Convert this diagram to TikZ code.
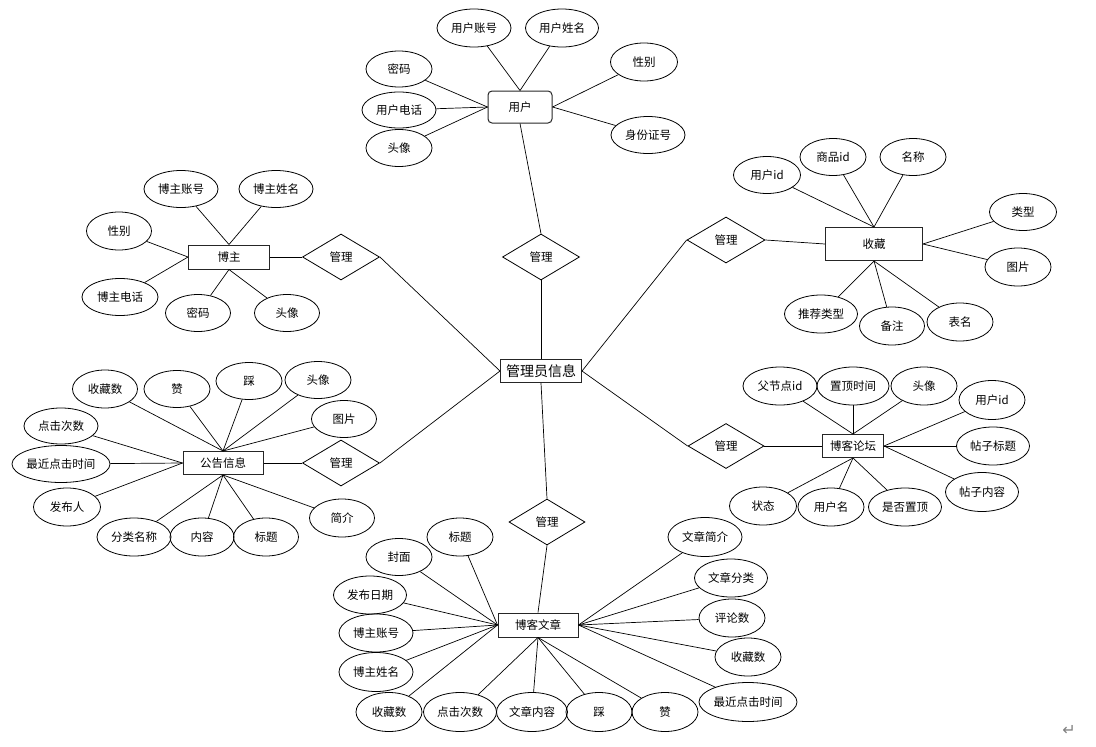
\documentclass[tikz,border=0pt]{standalone}
\usepackage{fontspec}
\setmainfont{Noto Sans CJK SC}
\newfontfamily\symfont{DejaVu Sans}
\usetikzlibrary{shapes.geometric}
\begin{document}
\begin{tikzpicture}[x=1pt,y=-1pt,
  every node/.style={font=\fontsize{11.5}{13}\selectfont, inner sep=0pt},
  attr/.style={ellipse, draw, line width=0.8pt, minimum width=66pt, minimum height=38pt},
  ent/.style={rectangle, draw=black!85, line width=1pt, minimum width=80pt, minimum height=24pt},
  rel/.style={diamond, draw, line width=0.8pt, minimum width=77pt, minimum height=46pt},
  conn/.style={line width=0.7pt}]
\useasboundingbox (0,0) rectangle (1096,747);

% ---------- central entity ----------
\node[ent, minimum width=81pt, minimum height=23pt, font=\fontsize{14}{16}\selectfont] (admin) at (541,371) {管理员信息};

% ---------- user ----------
\node[ent, rounded corners=4pt, minimum width=64pt, minimum height=32pt] (user) at (520,107) {用户};
\node[attr, minimum width=74pt] (ua1) at (474,28) {用户账号};
\node[attr, minimum width=73pt] (ua2) at (562,28) {用户姓名};
\node[attr, minimum width=67pt] (ua3) at (644,62) {性别};
\node[attr, minimum width=74pt, minimum height=37pt] (ua4) at (648,135) {身份证号};
\node[attr, minimum height=36pt] (ua5) at (399,69) {密码};
\node[attr, minimum width=74pt, minimum height=36pt] (ua6) at (399,110) {用户电话};
\node[attr, minimum height=37pt] (ua7) at (399,148) {头像};
\node[rel] (rel1) at (541,257) {管理};
\foreach \a in {ua1,ua2} \draw[conn] (\a) -- (user.north);
\foreach \a in {ua3,ua4} \draw[conn] (\a) -- (user.east);
\foreach \a in {ua5,ua6,ua7} \draw[conn] (\a) -- (user.west);
\draw[conn] (user.south) -- (rel1.north);
\draw[conn] (rel1.south) -- (admin.north);

% ---------- blogger ----------
\node[ent, minimum width=81pt] (bz) at (229,257) {博主};
\node[attr, minimum width=74pt, minimum height=37pt] (ba1) at (181,189) {博主账号};
\node[attr, minimum width=74pt, minimum height=37pt] (ba2) at (276,189) {博主姓名};
\node[attr, minimum width=65pt] (ba3) at (119,231) {性别};
\node[attr, minimum width=76pt, minimum height=37pt] (ba4) at (120,297) {博主电话};
\node[attr, minimum width=65pt, minimum height=37pt] (ba5) at (198,313) {密码};
\node[attr, minimum width=65pt, minimum height=37pt] (ba6) at (287,313) {头像};
\node[rel] (rel2) at (341,257) {管理};
\foreach \a in {ba1,ba2} \draw[conn] (\a) -- (bz.north);
\foreach \a in {ba3,ba4} \draw[conn] (\a) -- (bz.west);
\foreach \a in {ba5,ba6} \draw[conn] (\a) -- (bz.south);
\draw[conn] (bz.east) -- (rel2.west);
\draw[conn] (rel2.east) -- (admin.west);

% ---------- collection ----------
\node[ent, minimum width=97pt, minimum height=33pt] (sc) at (874,244) {收藏};
\node[attr, minimum width=67pt, minimum height=37pt] (ca1) at (767,175) {用户id};
\node[attr, minimum height=37pt] (ca2) at (833,157) {商品id};
\node[attr, minimum height=37pt] (ca3) at (913,157) {名称};
\node[attr, minimum width=67pt, minimum height=37pt] (ca4) at (1023,212) {类型};
\node[attr] (ca5) at (1018,267) {图片};
\node[attr, minimum width=73pt] (ca6) at (821,314) {推荐类型};
\node[attr, minimum width=65pt] (ca7) at (892,326) {备注};
\node[attr] (ca8) at (960,322) {表名};
\node[rel, minimum width=78pt] (rel3) at (726,240) {管理};
\foreach \a in {ca1,ca2,ca3} \draw[conn] (\a) -- (sc.north);
\foreach \a in {ca4,ca5} \draw[conn] (\a) -- (sc.east);
\foreach \a in {ca6,ca7,ca8} \draw[conn] (\a) -- (sc.south);
\draw[conn] (rel3.east) -- (sc.west);
\draw[conn] (rel3.west) -- (admin.east);

% ---------- notice ----------
\node[ent, minimum height=23pt] (gg) at (223,463) {公告信息};
\node[attr, minimum width=65pt] (na1) at (105,389) {收藏数};
\node[attr, minimum height=37pt] (na2) at (177,389) {赞};
\node[attr, minimum height=37pt] (na3) at (249,381) {踩};
\node[attr, minimum height=37pt] (na4) at (318,380) {头像};
\node[attr, minimum width=65pt, minimum height=37pt] (na5) at (344,419) {图片};
\node[attr, minimum width=74pt, minimum height=36pt] (na6) at (61,426) {点击次数};
\node[attr, minimum width=98pt, minimum height=37pt] (na7) at (61,464) {最近点击时间};
\node[attr, minimum width=67pt] (na8) at (67,507) {发布人};
\node[attr, minimum width=74pt] (na9) at (134,537) {分类名称};
\node[attr, minimum width=64pt] (na10) at (202,537) {内容};
\node[attr, minimum width=65pt] (na11) at (266,537) {标题};
\node[attr, minimum width=65pt] (na12) at (342,518) {简介};
\node[rel] (rel4) at (341,463) {管理};
\foreach \a in {na1,na2,na3,na4,na5} \draw[conn] (\a) -- (gg.north);
\foreach \a in {na6,na7,na8} \draw[conn] (\a) -- (gg.west);
\foreach \a in {na9,na10,na11,na12} \draw[conn] (\a) -- (gg.south);
\draw[conn] (gg.east) -- (rel4.west);
\draw[conn] (rel4.east) -- (admin.west);

% ---------- forum ----------
\node[ent, minimum width=61pt, minimum height=23pt] (lt) at (853,446) {博客论坛};
\node[attr, minimum width=74pt] (fa1) at (780,386) {父节点id};
\node[attr, minimum width=72pt] (fa2) at (853,386) {置顶时间};
\node[attr] (fa3) at (924,386) {头像};
\node[attr, minimum height=39pt] (fa4) at (992,400) {用户id};
\node[attr, minimum width=73pt] (fa5) at (993,446) {帖子标题};
\node[attr, minimum width=73pt, minimum height=39pt] (fa6) at (982,492) {帖子内容};
\node[attr, minimum width=67pt] (fa7) at (763,506) {状态};
\node[attr] (fa8) at (831,507) {用户名};
\node[attr, minimum width=73pt] (fa9) at (905,507) {是否置顶};
\node[rel, minimum width=76pt, minimum height=45pt] (rel5) at (726,446) {管理};
\foreach \a in {fa1,fa2,fa3} \draw[conn] (\a) -- (lt.north);
\foreach \a in {fa4,fa5,fa6} \draw[conn] (\a) -- (lt.east);
\foreach \a in {fa7,fa8,fa9} \draw[conn] (\a) -- (lt.south);
\draw[conn] (rel5.east) -- (lt.west);
\draw[conn] (rel5.west) -- (admin.east);

% ---------- article ----------
\node[ent] (wz) at (538,625) {博客文章};
\node[rel, minimum width=76pt] (rel6) at (547,522) {管理};
\node[attr] (wa1) at (460,537) {标题};
\node[attr, minimum height=37pt] (wa2) at (399,557) {封面};
\node[attr, minimum width=73pt] (wa3) at (370,595) {发布日期};
\node[attr, minimum width=74pt] (wa4) at (376,633) {博主账号};
\node[attr, minimum width=74pt, minimum height=39pt] (wa5) at (376,672) {博主姓名};
\node[attr, minimum height=39pt] (wa6) at (389,712) {收藏数};
\node[attr, minimum width=73pt, minimum height=39pt] (wa7) at (460,712) {点击次数};
\node[attr, minimum width=71pt, minimum height=39pt] (wa8) at (532,712) {文章内容};
\node[attr, minimum height=39pt] (wa9) at (599,712) {踩};
\node[attr, minimum height=39pt] (wa10) at (665,712) {赞};
\node[attr, minimum width=98pt, minimum height=39pt] (wa11) at (748,702) {最近点击时间};
\node[attr, minimum width=74pt, minimum height=39pt] (wa12) at (705,537) {文章简介};
\node[attr, minimum width=73pt] (wa13) at (731,578) {文章分类};
\node[attr] (wa14) at (732,618) {评论数};
\node[attr] (wa15) at (748,657) {收藏数};
\draw[conn] (admin.south) -- (rel6.north);
\draw[conn] (rel6.south) -- (wz.north);
\foreach \a in {wa1,wa2,wa3,wa4,wa5,wa6} \draw[conn] (\a) -- (wz.west);
\foreach \a in {wa7,wa8,wa9,wa10} \draw[conn] (\a) -- (wz.south);
\foreach \a in {wa11,wa12,wa13,wa14,wa15} \draw[conn] (\a) -- (wz.east);

% ---------- paragraph mark ----------
\node[text=gray, font=\symfont\fontsize{16}{18}\selectfont] (ret) at (1069,730) {↵};
\end{tikzpicture}
\end{document}
